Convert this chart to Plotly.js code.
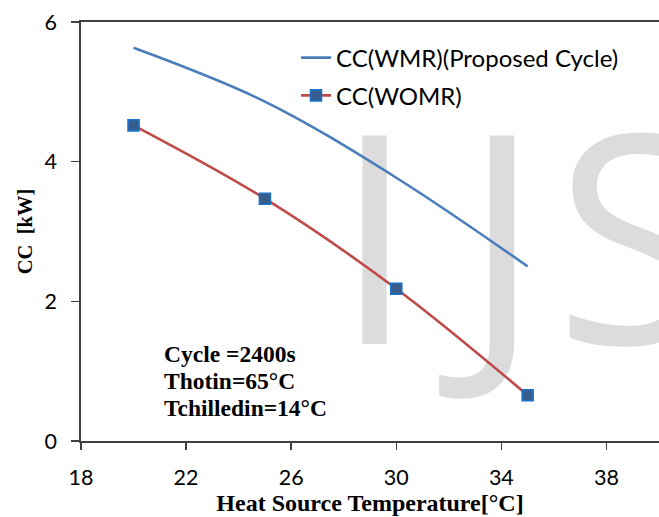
<!DOCTYPE html>
<html>
<head>
<meta charset="utf-8">
<script src="https://cdn.plot.ly/plotly-3.0.1.min.js"></script>
<style>html,body{margin:0;padding:0;background:#fff;}#chart{width:659px;height:517px;}</style>
</head>
<body>
<div id="chart"></div>
<script>
const temps = [20, 25, 30, 35];
const ccWMR = [5.63, 4.86, 3.77, 2.50];
const ccWOMR = [4.52, 3.47, 2.18, 0.655];
const xTicks = [18, 22, 26, 30, 34, 38];
const yTicks = [0, 2, 4, 6];
const seriesNames = ['CC(WMR)(Proposed Cycle)', 'CC(WOMR)'];
const noteLines = ['Cycle =2400s', 'Thotin=65°C', 'Tchilledin=14°C'];
const watermarkLetters = ['I', 'J', 'S'];

const traces = [
  {x: temps, y: ccWMR, name: seriesNames[0], mode: 'lines', legend: 'legend',
   line: {color: '#4A7EBB', width: 2.6, shape: 'spline', smoothing: 1}},
  {x: temps, y: ccWOMR, name: seriesNames[1], mode: 'lines+markers', legend: 'legend2',
   line: {color: '#BE4B48', width: 2.6, shape: 'spline', smoothing: 1},
   marker: {symbol: 'square', size: 11, color: '#385D8A', line: {color: '#1A73C9', width: 1.6}}}
];

const serif = '"Liberation Serif", "Times New Roman", serif';
const sans = 'Lato, "Open Sans", sans-serif';
const tickFont = {family: sans, size: 21.5, color: '#000'};

const wmCenters = [0.508, 0.728, 0.958];
const shapes = watermarkLetters.map((t, i) => ({
  type: 'rect', xref: 'paper', yref: 'paper', x0: wmCenters[i] - 0.1, x1: wmCenters[i] + 0.1, y0: 0.3535, y1: 0.5535,
  layer: 'below', line: {width: 0}, fillcolor: 'rgba(0,0,0,0)',
  label: {text: t, textposition: 'middle center', padding: 0,
    font: {family: '"Open Sans", sans-serif', size: 292, color: '#DCDCDC'}}
}));

const noteY = [0.2086, 0.1442, 0.0799];
const annotations = noteLines.map((t, i) => ({
  xref: 'paper', yref: 'paper', x: 0.140, y: noteY[i], xanchor: 'left', yanchor: 'middle', align: 'left',
  showarrow: false, text: t, font: {family: serif, size: 23.5, color: '#000', weight: 'bold'}
}));

const layout = {
  width: 659, height: 517,
  margin: {l: 81, r: 0, t: 22, b: 75.5},
  paper_bgcolor: '#fff', plot_bgcolor: '#fff',
  showlegend: true,
  xaxis: {range: [18, 40], tickvals: xTicks, ticks: 'outside', ticklen: 7, tickwidth: 1.5, tickcolor: '#404040',
    showline: true, linecolor: '#404040', linewidth: 1.8, mirror: true, showgrid: false, zeroline: false,
    tickfont: tickFont, ticklabelstandoff: 9,
    title: {text: 'Heat Source Temperature[°C]', standoff: 4,
      font: {family: serif, size: 24, color: '#000', weight: 'bold'}}},
  yaxis: {range: [0, 6], tickvals: yTicks, ticks: 'outside', ticklen: 8, tickwidth: 1.5, tickcolor: '#404040',
    showline: true, linecolor: '#404040', linewidth: 1.8, showgrid: false, zeroline: false,
    tickfont: tickFont, ticklabelstandoff: 10,
    title: {text: 'CC  [kW]', standoff: 6,
      font: {family: serif, size: 20.5, color: '#000', weight: 'bold'}}},
  legend: {x: 0.372, y: 0.914, xanchor: 'left', yanchor: 'middle', bgcolor: 'rgba(0,0,0,0)',
    font: {family: sans, size: 24, color: '#000'}},
  legend2: {x: 0.372, y: 0.824, xanchor: 'left', yanchor: 'middle', bgcolor: 'rgba(0,0,0,0)',
    font: {family: sans, size: 24, color: '#000'}},
  shapes: shapes,
  annotations: annotations
};
Plotly.newPlot('chart', traces, layout, {staticPlot: true, displayModeBar: false});
</script>
</body>
</html>
